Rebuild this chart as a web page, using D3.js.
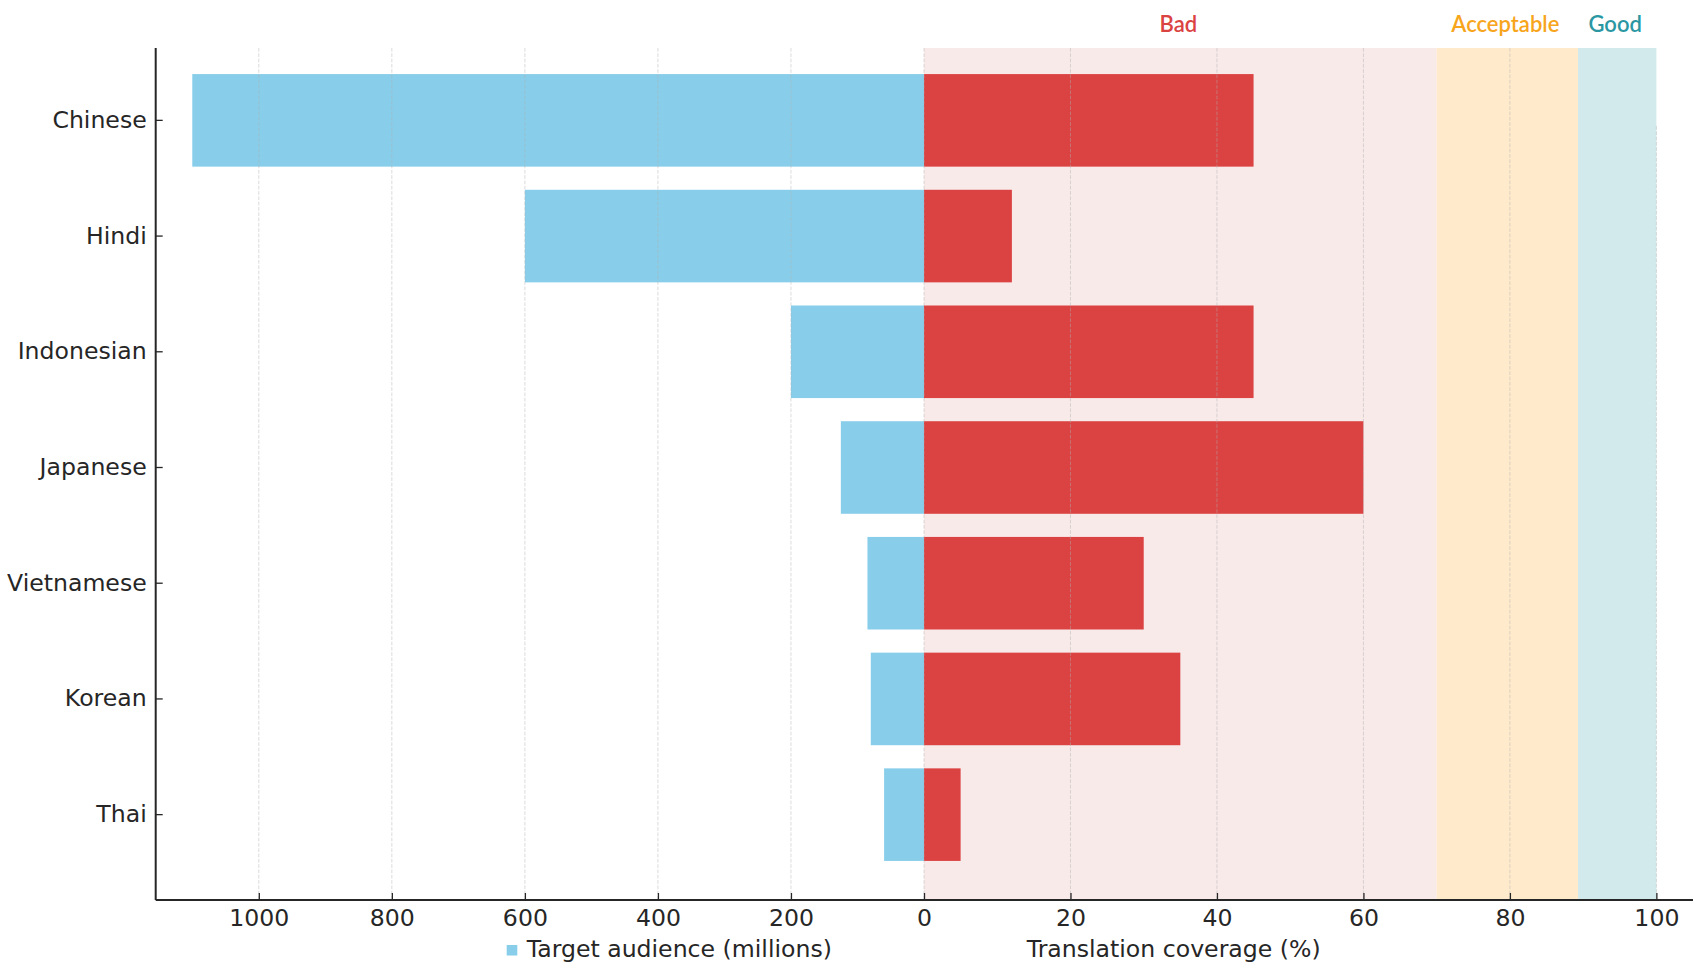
<!DOCTYPE html>
<html>
<head>
<meta charset="utf-8">
<script src="https://cdn.jsdelivr.net/npm/d3@7"></script>
<style>
  html, body { margin: 0; padding: 0; background: #fff; }
  svg { display: block; }
</style>
</head>
<body>
<svg id="chart" width="1706" height="970"></svg>
<script>
// ---- data ----
const languages = ["Chinese", "Hindi", "Indonesian", "Japanese", "Vietnamese", "Korean", "Thai"];
const audienceMillions = [1100, 600, 200, 125, 85, 80, 60];
const coveragePct = [45, 12, 45, 60, 30, 35, 5];
const leftTicks = [0, 200, 400, 600, 800, 1000];
const rightTicks = [0, 20, 40, 60, 80, 100];
const bandNames = ["Bad", "Acceptable", "Good"];
const bandStarts = [0, 70, 89.3];
const bandEnds = [70, 89.3, 100];

(function () {
// ---- styles ----
const bandFill = ["#F9EAEA", "#FFEBCB", "#D3EAEC"];
const bandText = ["#DB4343", "#F7A51C", "#2A97A3"];
const blue = "#88CEEA";
const red = "#DB4343";
const ink = "#262626";

const svg = d3.select("#chart");
const pTop = 48, pBottom = 900, pLeft = 155.7, pMid = 924, pRight = 1693;

const xL = d3.scaleLinear().domain([0, 1155]).range([pMid, pLeft]);
const xR = d3.scaleLinear().domain([0, 105]).range([pMid, pRight]);
const y = d3.scaleBand().domain(languages).range([62.5, 872.5]).paddingInner(0.2).paddingOuter(0.1);

// bands
const bands = bandNames.map((n, i) => ({ name: n, s: bandStarts[i], e: bandEnds[i], fill: bandFill[i], tc: bandText[i] }));
svg.append("g").selectAll("rect").data(bands).join("rect")
  .attr("x", d => xR(d.s)).attr("width", d => xR(d.e) - xR(d.s))
  .attr("y", pTop).attr("height", pBottom - pTop)
  .attr("fill", d => d.fill);

svg.append("g").selectAll("text").data(bands).join("text")
  .attr("x", d => xR((d.s + d.e) / 2) - 2).attr("y", 31.5)
  .attr("text-anchor", "middle")
  .attr("font-family", "Lato, 'Open Sans', sans-serif")
  .attr("font-size", 22).attr("font-weight", 600)
  .attr("fill", d => d.tc)
  .text(d => d.name);

// bars
const rows = languages.map((l, i) => ({ lang: l, aud: audienceMillions[i], cov: coveragePct[i] }));
svg.append("g").selectAll("rect").data(rows).join("rect")
  .attr("x", d => xL(d.aud)).attr("width", d => xL(0) - xL(d.aud))
  .attr("y", d => y(d.lang)).attr("height", y.bandwidth())
  .attr("fill", blue);
svg.append("g").selectAll("rect").data(rows).join("rect")
  .attr("x", xR(0)).attr("width", d => xR(d.cov) - xR(0))
  .attr("y", d => y(d.lang)).attr("height", y.bandwidth())
  .attr("fill", red);

// gridlines (drawn over bars, translucent)
const grid = svg.append("g").attr("stroke", "#b0b0b0").attr("stroke-opacity", 0.45)
  .attr("stroke-width", 1).attr("stroke-dasharray", "3.7,1.6");
grid.selectAll("line.l").data(leftTicks.filter(t => t > 0)).join("line").attr("class", "l")
  .attr("x1", d => xL(d)).attr("x2", d => xL(d)).attr("y1", pTop).attr("y2", pBottom);
grid.selectAll("line.r").data(rightTicks).join("line").attr("class", "r")
  .attr("x1", d => xR(d)).attr("x2", d => xR(d)).attr("y1", d => d === 100 ? 126 : pTop).attr("y2", pBottom);

// axes
const font = "DejaVu Sans";
const fs = 23.6;
const axL = svg.append("g").attr("transform", `translate(0,${pBottom})`)
  .call(d3.axisBottom(xL).tickValues(leftTicks.filter(t => t > 0)).tickFormat(d3.format("d"))
    .tickSize(-7).tickSizeOuter(0).tickPadding(9.7));
const axR = svg.append("g").attr("transform", `translate(0,${pBottom})`)
  .call(d3.axisBottom(xR).tickValues(rightTicks).tickFormat(d3.format("d"))
    .tickSize(-7).tickSizeOuter(0).tickPadding(9.7));
const axY = svg.append("g").attr("transform", `translate(${pLeft},0)`)
  .call(d3.axisLeft(y).tickSize(-7).tickSizeOuter(0).tickPadding(9));
[axL, axR, axY].forEach(a => {
  a.select(".domain").remove();
  a.selectAll(".tick line").attr("stroke", ink).attr("stroke-width", 1.3);
  a.selectAll(".tick text").attr("font-family", font).attr("font-size", fs).attr("fill", ink);
});

// spines
svg.append("line").attr("x1", pLeft).attr("x2", pRight).attr("y1", pBottom).attr("y2", pBottom)
  .attr("stroke", ink).attr("stroke-width", 2);
svg.append("line").attr("x1", pLeft).attr("x2", pLeft).attr("y1", pTop).attr("y2", pBottom)
  .attr("stroke", ink).attr("stroke-width", 2);

// bottom labels
svg.append("rect").attr("x", 506.7).attr("y", 945).attr("width", 10.6).attr("height", 10.5).attr("fill", blue);
svg.append("text").attr("x", 526.7).attr("y", 957).attr("font-family", font).attr("font-size", fs)
  .attr("fill", ink).text("Target audience (millions)");
svg.append("text").attr("x", 1026.7).attr("y", 957).attr("font-family", font).attr("font-size", fs)
  .attr("fill", ink).text("Translation coverage (%)");
})();
</script>
</body>
</html>
